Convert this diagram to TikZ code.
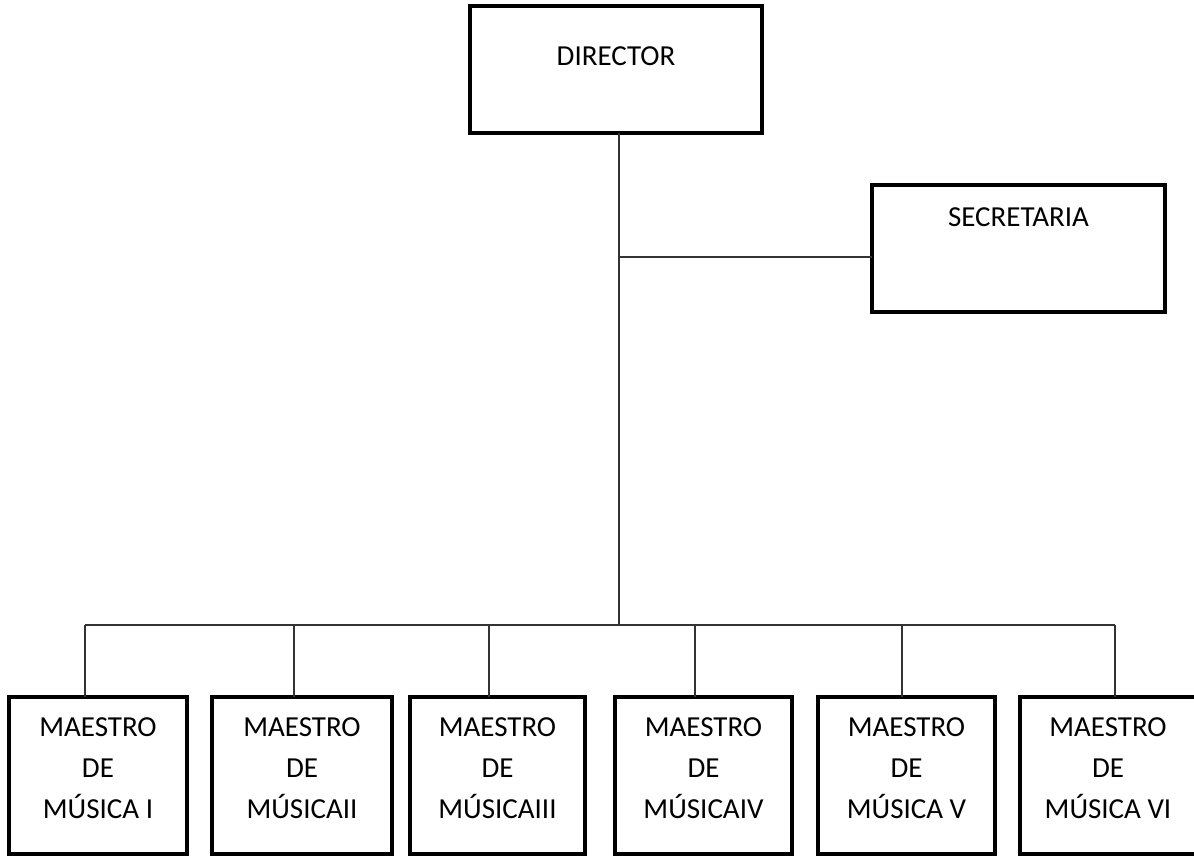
\documentclass[tikz,border=0pt]{standalone}
\usepackage{fontspec}
\setmainfont{Carlito}
\usetikzlibrary{positioning}

\begin{document}
\begin{tikzpicture}[x=0.5pt,y=-0.5pt]
  \tikzset{BoxStyle/.style = {shape          = rectangle,
                              draw, black,
                              line width     = 1.8pt,
                              text           = black,
                              inner sep      = 0pt,
                              outer sep      = 0pt,
                              align          = center,
                              font           = \fontsize{14.5}{20.5}\selectfont}}
  \tikzset{TeacherStyle/.style = {BoxStyle, minimum height=78.5pt, text depth=7pt}}
  \tikzset{LinkStyle/.style = {draw=black!80, line width=0.6pt}}
  \tikzset{TopLabel/.style 2 args = {label={[anchor=center, inner sep=0pt, yshift=-#2, font=\fontsize{14.5}{20.5}\selectfont]north:#1}}}
  \useasboundingbox (0,0) rectangle (1194,857);
	%%% DIRECCION %%%
	\node[BoxStyle, minimum width=146pt, minimum height=63.5pt, TopLabel={DIRECTOR}{25pt}](dir) at (616,69.5){};
	\node[BoxStyle, minimum width=146.5pt, minimum height=63.5pt, TopLabel={SECRETARIA}{16pt}](sec) at (1018.5,248.5){};
	\coordinate (d0) at (619,625);
	\coordinate (s0) at (619,257);
	\draw[LinkStyle](dir.south -| d0) to (d0);
	\draw[LinkStyle](s0) to (s0 -| sec.west);
	%%% MAESTROS %%%
	\node[TeacherStyle, minimum width=89pt](m1) at (98,775.5){MAESTRO\\DE\\MÚSICA I};
	\node[TeacherStyle, minimum width=90pt](m2) at (302,775.5){MAESTRO\\DE\\MÚSICAII};
	\node[TeacherStyle, minimum width=87.5pt](m3) at (497.5,775.5){MAESTRO\\DE\\MÚSICAIII};
	\node[TeacherStyle, minimum width=88.5pt](m4) at (703.5,775.5){MAESTRO\\DE\\MÚSICAIV};
	\node[TeacherStyle, minimum width=88.5pt](m5) at (906.5,775.5){MAESTRO\\DE\\MÚSICA V};
	\node[TeacherStyle, minimum width=88pt](m6) at (1108,775.5){MAESTRO\\DE\\MÚSICA VI};
	%%% LINEAS %%%
	\coordinate (t1) at (85,625);
	\coordinate (t2) at (294,625);
	\coordinate (t3) at (489,625);
	\coordinate (t4) at (695,625);
	\coordinate (t5) at (902,625);
	\coordinate (t6) at (1115,625);
	\draw[LinkStyle](t1) to (t6);
	\foreach \i in {1,...,6}
	  \draw[LinkStyle](t\i) to (t\i |- m\i.north);
\end{tikzpicture}
\end{document}
